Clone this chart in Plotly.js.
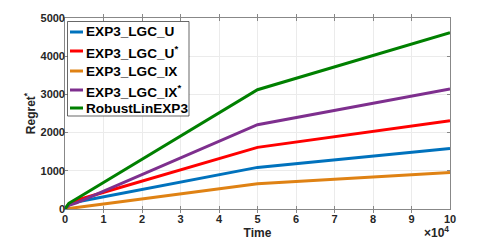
<!DOCTYPE html>
<html>
<head>
<meta charset="utf-8">
<script src="https://cdn.plot.ly/plotly-3.0.1.min.js"></script>
<style>html,body{margin:0;padding:0;background:#fff;}#chart{width:498px;height:240px;}</style>
</head>
<body>
<div id="chart"></div>
<script>
// Time steps (raw units)
const timeSteps = [0, 1000, 3000, 13000, 50000, 100000];
// Regret* per algorithm
const exp3LgcU    = [0, 110, 185, 374, 1089, 1586];
const exp3LgcUs   = [0, 125, 230, 523, 1613, 2311];
const exp3LgcIX   = [0, 15, 40, 173, 662, 958];
const exp3LgcIXs  = [0, 95, 160, 592, 2207, 3140];
const robustLin   = [0, 150, 270, 880, 3123, 4615];

const seriesNames = ["EXP3_LGC_U", "EXP3_LGC_U<sup>*</sup>", "EXP3_LGC_IX", "EXP3_LGC_IX<sup>*</sup>", "RobustLinEXP3"];
const seriesValues = [exp3LgcU, exp3LgcUs, exp3LgcIX, exp3LgcIXs, robustLin];
const seriesColors = ["#0072BD", "#FF0000", "#DF8214", "#7E2F8E", "#008000"];

const xTickVals = [0,10000,20000,30000,40000,50000,60000,70000,80000,90000,100000];
const xTickText = ["0","1","2","3","4","5","6","7","8","9","10"];
const yTickVals = [0,1000,2000,3000,4000,5000];

const traces = seriesNames.map((n, i) => ({
  x: timeSteps, y: seriesValues[i], name: n, type: "scatter", mode: "lines",
  line: {color: seriesColors[i], width: 3}
}));
// empty carrier trace so the label axis (y2) is drawn
traces.unshift({x: [], y: [], yaxis: "y2", type: "scatter", mode: "lines", showlegend: false, hoverinfo: "skip"});

// Plot area geometry (px) for placing the custom legend
const PL = 65, PW = 385, PT = 18, PH = 191;
const px2x = p => (p - PL) / PW;
const px2y = p => (PT + PH - p) / PH;
const legRows = [32, 51, 71, 90, 108];

const shapes = [{type: "rect", xref: "paper", yref: "paper",
  x0: px2x(67.5), x1: px2x(189), y0: px2y(116), y1: px2y(21.5),
  line: {color: "#262626", width: 0.7}, fillcolor: "#fff", layer: "above"}];
const annotations = [];
seriesNames.forEach((n, i) => {
  shapes.push({type: "line", xref: "paper", yref: "paper",
    x0: px2x(70), x1: px2x(83), y0: px2y(legRows[i]), y1: px2y(legRows[i]),
    line: {color: seriesColors[i], width: 3}, layer: "above"});
  annotations.push({xref: "paper", yref: "paper", x: px2x(84), y: px2y(legRows[i] + (n.indexOf("sup") > 0 ? 0.5 : 0)),
    xanchor: "left", yanchor: "middle", showarrow: false, text: n,
    font: {family: "Liberation Sans, Arial, sans-serif", size: 13.6, color: "#000", weight: "bold"}});
});
annotations.push({xref: "paper", yref: "paper", x: 1.0, y: 0, yshift: -32, xanchor: "right", yanchor: "bottom",
  text: "×10<sup>4</sup>", showarrow: false, borderpad: 0,
  font: {family: "Liberation Sans, Arial, sans-serif", size: 12, color: "#262626"}});

const font = {family: "Liberation Sans, Arial, sans-serif", color: "#262626", size: 11, weight: "bold"};
const layout = {
  width: 498, height: 240,
  margin: {l: PL, r: 498 - PL - PW, t: PT, b: 240 - PT - PH, pad: 0},
  paper_bgcolor: "#fff", plot_bgcolor: "#fff",
  font: font,
  showlegend: false,
  xaxis: {range: [0, 100000], tickvals: xTickVals, ticktext: xTickText,
    ticks: "inside", ticklen: 3, tickcolor: "#888", showline: true, linecolor: "#888", linewidth: 1,
    mirror: "allticks", showgrid: true, gridcolor: "#ebebeb", zeroline: false,
    tickfont: font,
    title: {text: "Time", font: {family: "Liberation Sans, Arial, sans-serif", size: 12, color: "#262626", weight: "bold"}, standoff: 4}},
  yaxis: {range: [0, 5000], tickvals: yTickVals,
    ticks: "inside", ticklen: 3, tickcolor: "#888", showline: true, linecolor: "#888", linewidth: 1,
    mirror: "allticks", showgrid: true, gridcolor: "#ebebeb", zeroline: false,
    showticklabels: false},
  yaxis2: {range: [0, 5000], tickvals: yTickVals, overlaying: "y", anchor: "free", position: 0, side: "left",
    showline: false, ticks: "", showgrid: false, zeroline: false,
    tickfont: font,
    title: {text: "Regret<sup>*</sup>", font: {family: "Liberation Sans, Arial, sans-serif", size: 12, color: "#262626", weight: "bold"}, standoff: 1}},
  shapes: shapes,
  annotations: annotations
};
Plotly.newPlot("chart", traces, layout, {displayModeBar: false, staticPlot: true});
</script>
</body>
</html>
